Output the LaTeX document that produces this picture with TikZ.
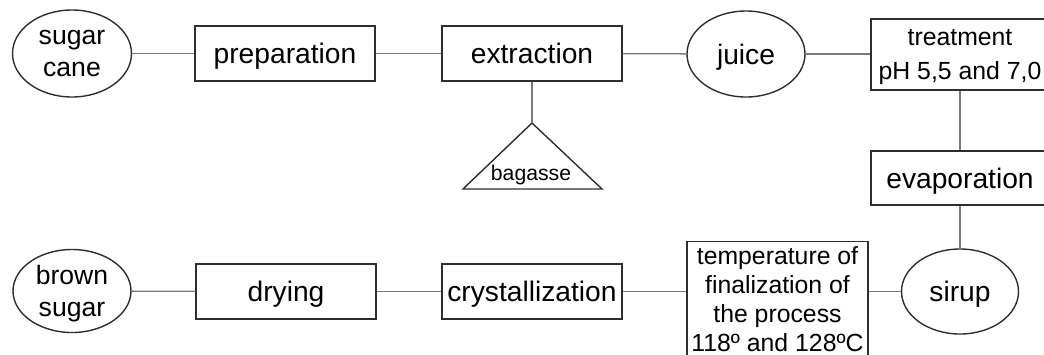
\documentclass[tikz,border=0pt]{standalone}
\usepackage{fontspec}
\setmainfont{Liberation Sans}
\usetikzlibrary{shapes.geometric}
\definecolor{boxline}{HTML}{2E2E2E}
\definecolor{linkgray}{HTML}{7A7A7A}

\begin{document}
\begin{tikzpicture}[x=1pt,y=-1pt,
  box/.style={draw=boxline, line width=1.4pt, rectangle, inner sep=0pt, align=center},
  oval/.style={draw=boxline, line width=1.4pt, ellipse, inner sep=0pt, align=center},
  link/.style={draw=linkgray, line width=1.3pt},
  big/.style={font=\fontsize{28.2}{32}\selectfont, text depth=0pt},
  mid/.style={font=\fontsize{26.6}{31.5}\selectfont},
  small/.style={font=\fontsize{24.8}{29}\selectfont},
  tiny/.style={font=\fontsize{21.2}{25}\selectfont}
]
\useasboundingbox (0,0) rectangle (1044,354);
\clip (0,0) rectangle (1044,354);

% upper row
\node[oval, mid, text depth=-6pt, minimum width=119pt, minimum height=87pt] (cane) at (72,53.5) {sugar\\cane};
\node[box, big, minimum width=180pt, minimum height=55pt] (prep) at (285,53.5) {preparation};
\node[box, big, minimum width=180pt, minimum height=55pt] (extr) at (532,53.5) {extraction};
\node[oval, big, minimum width=118pt, minimum height=86pt] (juice) at (746,54) {juice};
\node[box, minimum width=178pt, minimum height=71pt, text depth=-5pt,
  font=\fontsize{24.8}{34}\selectfont] (treat) at (960,54.5) {treatment\\pH 5,5 and 7,0};

% by-product of the extraction
\coordinate (bagtop) at (532,123);
\draw[boxline, line width=1.4pt] (bagtop) -- (602,189) -- (463,189) -- cycle;
\node[tiny, inner sep=0pt] (bag) at (531,175) {bagasse};

% right column
\node[box, big, minimum width=178pt, minimum height=54pt] (evap) at (960,178) {evaporation};
\node[oval, big, minimum width=117pt, minimum height=85pt] (sirup) at (960,291.5) {sirup};

% lower row
\node[box, small, minimum width=181pt, minimum height=114pt, anchor=north] (temp) at (777.5,241)
  {temperature of\\finalization of\\the process\\118º and 128ºC};
\node[box, big, minimum width=180pt, minimum height=55pt] (cryst) at (532,291.5) {crystallization};
\node[box, big, minimum width=180pt, minimum height=55pt] (dry) at (286,291.5) {drying};
\node[oval, mid, text depth=-2.5pt, minimum width=118pt, minimum height=83pt] (brown) at (72,291) {brown\\sugar};

% connectors
\draw[link] (cane) -- (prep);
\draw[link] (prep) -- (extr);
\draw[link] (extr) -- (juice);
\draw[link] (juice.east) -- (juice.east -| treat.west);
\draw[link] (extr.south) -- (bagtop);
\draw[link] (treat) -- (evap);
\draw[link] (evap) -- (sirup);
\draw[link] (sirup.west) -- (sirup.west -| temp.east);
\draw[link] (cryst.east) -- (cryst.east -| temp.west);
\draw[link] (dry) -- (cryst);
\draw[link] (brown) -- (dry);
\end{tikzpicture}
\end{document}
